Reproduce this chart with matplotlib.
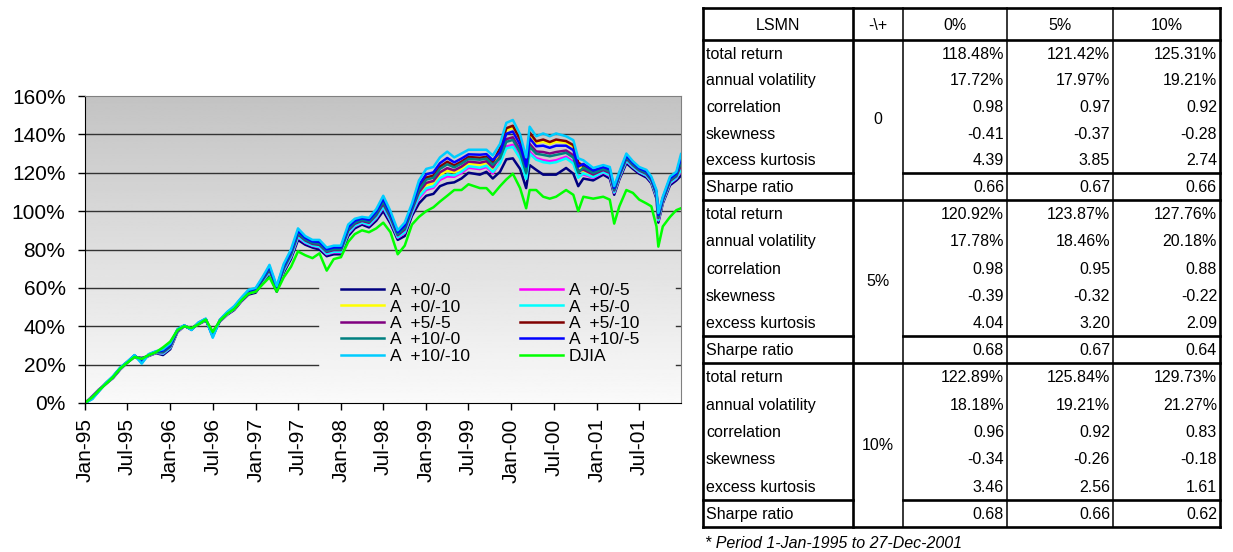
import numpy as np
import pandas as pd
import matplotlib
matplotlib.use("Agg")
import matplotlib.pyplot as plt
import matplotlib.dates as mdates
from matplotlib.ticker import FuncFormatter, MultipleLocator

plt.rcParams['font.family'] = ['Liberation Sans', 'DejaVu Sans']

# cumulative returns (%), monthly to Jul-99 then irregular sampling
dates = list(pd.date_range("1995-01-01", "1999-07-01", freq="MS")) + list(pd.to_datetime([
    "1999-08-19", "1999-09-16", "1999-10-13", "1999-11-13", "1999-12-10", "2000-01-07",
    "2000-02-07", "2000-03-04", "2000-03-19", "2000-04-16", "2000-05-16", "2000-06-13",
    "2000-07-10", "2000-08-22", "2000-09-22", "2000-10-13", "2000-11-04", "2000-12-16",
    "2001-01-28", "2001-02-25", "2001-03-16", "2001-04-07", "2001-05-07", "2001-06-04",
    "2001-07-01", "2001-08-01", "2001-08-22", "2001-09-13", "2001-09-21", "2001-10-10",
    "2001-11-10", "2001-12-07", "2001-12-27"]))

djia = [0, 3, 6.5, 10, 13.5, 18, 21, 24, 23, 25,
        26.5, 29, 32, 38, 40, 39, 41, 43.5, 37, 43,
        46.5, 49, 53.5, 57, 58, 62, 65.5, 58, 65.5, 71,
        79, 77, 75.5, 78, 69, 75, 76, 84, 88, 90,
        89, 91, 94, 89, 77.5, 82, 93, 97, 100, 102,
        105, 108, 111, 111, 114, 112, 112, 108.5, 113, 116.5,
        119.5, 112, 101.5, 111, 111, 107.5, 106.5, 107.5, 111, 108.5,
        100, 107.5, 106.5, 107.5, 106, 93.5, 102.5, 111, 109.5, 106,
        104, 102.5, 92, 81.5, 92, 97, 100.5, 101.5]

a_0_0 = [0, 3.5, 7, 10, 13, 17.5, 21, 24, 23.5, 24.5,
         26, 25, 28, 37, 40, 39, 41, 43, 37, 42.5,
         46, 48.5, 53, 56.5, 57.5, 63, 67, 58, 68, 75,
         85, 82.5, 81, 80, 76.5, 77.5, 77.5, 87, 91, 93,
         91.5, 95, 100, 93.5, 85, 87, 97.5, 104, 108, 109,
         113, 114.5, 115, 117, 120, 119, 120.5, 117, 120.5, 127,
         127.5, 122, 112, 124, 121.5, 119, 119, 119, 122.5, 119.5,
         113, 117, 116, 119, 117, 108.5, 116.5, 125, 122, 119.5,
         117.5, 114.5, 106.5, 94, 104, 113.5, 116, 118.48]

a_0_5 = [0, 3.2, 6.8, 10.1, 13.2, 17.7, 21.1, 24.2, 22.8, 24.7,
         26.2, 25.7, 28.7, 37.3, 40.1, 38.8, 41.2, 43.2, 36.3, 42.7,
         46.3, 48.9, 53.4, 57.1, 58.1, 63.7, 68.1, 58.7, 69.0, 76.1,
         86.3, 83.5, 81.9, 81.1, 77.5, 78.5, 78.5, 88.3, 92.1, 93.9,
         92.6, 96.3, 101.8, 94.9, 86.1, 88.5, 98.9, 106.6, 111.1, 112.1,
         116.3, 118.1, 117.9, 119.9, 122.6, 121.9, 123.0, 119.6, 125.6, 133.7,
         134.5, 128.3, 117.6, 131.0, 127.6, 126.5, 126.0, 126.5, 128.3, 125.6,
         118.1, 119.1, 117.4, 120.1, 118.3, 109.5, 117.4, 126.1, 122.9, 120.3,
         118.4, 115.3, 107.5, 95.1, 104.8, 114.5, 117.0, 120.92]

a_0_10 = [0, 2.9, 6.6, 10.2, 13.4, 17.9, 21.2, 24.4, 22.3, 24.9,
          26.4, 26.2, 29.2, 37.6, 40.2, 38.6, 41.4, 43.4, 35.8, 42.9,
          46.6, 49.3, 53.8, 57.5, 58.5, 64.2, 69.0, 59.2, 69.8, 77.0,
          87.4, 84.3, 82.6, 82.0, 78.3, 79.3, 79.3, 89.4, 93.0, 94.6,
          93.5, 97.4, 103.2, 96.1, 87.0, 89.8, 100.1, 108.8, 113.6, 114.6,
          119.0, 121.1, 120.2, 122.2, 124.8, 124.2, 125.1, 121.8, 132.1, 142.2,
          143.5, 136.4, 124.8, 140.0, 135.5, 136.2, 135.0, 136.2, 135.7, 133.5,
          124.6, 120.8, 118.6, 121.0, 119.4, 110.3, 118.1, 127.0, 123.6, 120.9,
          119.1, 115.9, 108.3, 96.0, 105.4, 115.3, 117.8, 122.89]

a_5_0 = [0, 3.1, 6.7, 10.1, 13.3, 17.8, 21.1, 24.3, 22.7, 24.8,
         26.3, 25.8, 28.8, 37.4, 40.1, 38.7, 41.3, 43.3, 36.2, 42.8,
         46.4, 49.1, 53.6, 57.2, 58.2, 63.8, 68.4, 58.8, 69.3, 76.4,
         86.7, 83.8, 82.1, 81.4, 77.8, 78.8, 78.8, 88.7, 92.4, 94.1,
         92.9, 96.7, 102.2, 95.3, 86.4, 89.0, 99.3, 107.4, 111.9, 112.9,
         117.2, 119.1, 118.6, 120.6, 123.4, 122.6, 123.7, 120.4, 124.9, 132.7,
         133.5, 127.4, 116.8, 130.0, 126.8, 125.5, 125.0, 125.5, 127.5, 124.8,
         117.4, 119.7, 117.8, 120.4, 118.7, 109.8, 117.6, 126.4, 123.1, 120.5,
         118.6, 115.5, 107.8, 95.4, 105.0, 114.8, 117.3, 121.42]

a_5_5 = [0, 2.8, 6.5, 10.2, 13.5, 18.0, 21.2, 24.5, 22.1, 25.0,
         26.5, 26.4, 29.4, 37.7, 40.2, 38.5, 41.5, 43.5, 35.6, 43.0,
         46.7, 49.5, 54.0, 57.7, 58.7, 64.4, 69.4, 59.4, 70.2, 77.4,
         87.9, 84.7, 82.9, 82.4, 78.7, 79.7, 79.7, 89.9, 93.4, 94.9,
         93.9, 97.9, 103.8, 96.6, 87.4, 90.4, 100.6, 109.8, 114.7, 115.7,
         120.2, 122.4, 121.2, 123.2, 125.8, 125.2, 126.0, 122.8, 128.5, 137.5,
         138.5, 131.9, 120.8, 135.0, 131.1, 130.8, 130.0, 130.8, 131.6, 129.1,
         121.0, 121.6, 119.1, 121.4, 119.9, 110.7, 118.4, 127.4, 123.9, 121.2,
         119.4, 116.2, 108.7, 96.4, 105.7, 115.7, 118.2, 123.87]

a_5_10 = [0, 2.5, 6.3, 10.3, 13.7, 18.2, 21.3, 24.7, 21.5, 25.2,
          26.7, 27.0, 30.0, 38.0, 40.3, 38.3, 41.7, 43.7, 35.0, 43.2,
          47.0, 49.9, 54.4, 58.2, 59.2, 65.0, 70.4, 60.0, 71.1, 78.4,
          89.1, 85.6, 83.7, 83.4, 79.6, 80.6, 80.6, 91.1, 94.4, 95.7,
          94.9, 99.1, 105.4, 97.9, 88.4, 91.8, 101.9, 112.2, 117.5, 118.5,
          123.2, 125.7, 123.8, 125.8, 128.2, 127.8, 128.3, 125.2, 132.8, 143.2,
          144.5, 137.3, 125.6, 141.0, 136.4, 137.3, 136.0, 137.3, 136.5, 134.4,
          125.3, 123.5, 120.4, 122.4, 121.1, 111.6, 119.2, 128.4, 124.7, 121.9,
          120.2, 116.9, 109.6, 97.4, 106.4, 116.6, 119.1, 125.84]

a_10_0 = [0, 2.6, 6.4, 10.3, 13.6, 18.1, 21.3, 24.6, 21.7, 25.1,
          26.6, 26.8, 29.8, 37.9, 40.3, 38.4, 41.6, 43.6, 35.2, 43.1,
          46.9, 49.7, 54.2, 58.0, 59.0, 64.8, 70.0, 59.8, 70.7, 78.0,
          88.6, 85.2, 83.4, 83.0, 79.2, 80.2, 80.2, 90.6, 94.0, 95.4,
          94.5, 98.6, 104.8, 97.4, 88.0, 91.2, 101.4, 111.2, 116.4, 117.4,
          122.0, 124.4, 122.8, 124.8, 127.2, 126.8, 127.4, 124.2, 127.5, 136.1,
          137.1, 130.6, 119.7, 133.6, 129.9, 129.3, 128.6, 129.3, 130.4, 127.9,
          120.0, 122.7, 119.9, 122.0, 120.6, 111.2, 118.9, 128.0, 124.4, 121.6,
          119.9, 116.6, 109.2, 97.0, 106.1, 116.2, 118.7, 125.31]

a_10_5 = [0, 2.3, 6.2, 10.4, 13.8, 18.3, 21.4, 24.8, 21.1, 25.3,
          26.8, 27.4, 30.4, 38.2, 40.4, 38.2, 41.8, 43.8, 34.6, 43.3,
          47.2, 50.1, 54.6, 58.5, 59.5, 65.4, 71.0, 60.4, 71.6, 79.0,
          89.8, 86.1, 84.2, 84.0, 80.1, 81.1, 81.1, 91.8, 95.0, 96.2,
          95.5, 99.8, 106.4, 98.7, 89.0, 92.6, 102.7, 113.6, 119.2, 120.2,
          125.0, 127.7, 125.4, 127.4, 129.6, 129.4, 129.7, 126.6, 130.7, 140.3,
          141.5, 134.6, 123.2, 138.0, 133.8, 134.1, 133.0, 134.1, 134.1, 131.8,
          123.2, 124.6, 121.2, 123.0, 121.8, 112.1, 119.7, 129.0, 125.2, 122.3,
          120.7, 117.3, 110.1, 98.0, 106.8, 117.1, 119.6, 127.76]

a_10_10 = [0, 2, 6, 10.5, 14, 18.5, 21.5, 25, 20.5, 25.5,
           27, 28, 31, 38.5, 40.5, 38, 42, 44, 34, 43.5,
           47.5, 50.5, 55, 59, 60, 66, 72, 61, 72.5, 80,
           91, 87, 85, 85, 81, 82, 82, 93, 96, 97,
           96.5, 101, 108, 100, 90, 94, 104, 116, 122, 123,
           128, 131, 128, 130, 132, 132, 132, 129, 135, 146,
           147.5, 140, 128, 144, 139, 140.5, 139, 140.5, 139, 137,
           127.5, 126.5, 122.5, 124, 123, 113, 120.5, 130, 126, 123,
           121.5, 118, 111, 99, 107.5, 118, 120.5, 129.73]

# statistics table
col_labels = ["0%", "5%", "10%"]
group_labels = ["0", "5%", "10%"]
row_labels = ["total return", "annual volatility", "correlation", "skewness",
              "excess kurtosis", "Sharpe ratio"]
total_return = [[118.48, 121.42, 125.31], [120.92, 123.87, 127.76], [122.89, 125.84, 129.73]]
volatility = [[17.72, 17.97, 19.21], [17.78, 18.46, 20.18], [18.18, 19.21, 21.27]]
correlation = [[0.98, 0.97, 0.92], [0.98, 0.95, 0.88], [0.96, 0.92, 0.83]]
skewness = [[-0.41, -0.37, -0.28], [-0.39, -0.32, -0.22], [-0.34, -0.26, -0.18]]
kurtosis = [[4.39, 3.85, 2.74], [4.04, 3.20, 2.09], [3.46, 2.56, 1.61]]
sharpe = [[0.66, 0.67, 0.66], [0.68, 0.67, 0.64], [0.68, 0.66, 0.62]]

series = [
    ("A  +0/-0", a_0_0, "#000080"),
    ("A  +0/-5", a_0_5, "#FF00FF"),
    ("A  +0/-10", a_0_10, "#FFFF00"),
    ("A  +5/-0", a_5_0, "#00FFFF"),
    ("A  +5/-5", a_5_5, "#800080"),
    ("A  +5/-10", a_5_10, "#800000"),
    ("A  +10/-0", a_10_0, "#008080"),
    ("A  +10/-5", a_10_5, "#0000FF"),
    ("A  +10/-10", a_10_10, "#00CCFF"),
    ("DJIA", djia, "#00FF00"),
]

W, H = 1233, 552
fig = plt.figure(figsize=(W / 100, H / 100), dpi=100)
pos = [85 / W, 1 - 403 / H, 596 / W, 307 / H]

# grey-to-white plot area
ax_bg = fig.add_axes(pos, zorder=0)
grad = np.linspace(0.765, 0.98, 256).reshape(-1, 1)
ax_bg.imshow(grad, aspect="auto", cmap="gray", vmin=0, vmax=1, extent=[0, 1, 0, 1], origin="upper")
ax_bg.axis("off")

ax = fig.add_axes(pos, zorder=1)
ax.patch.set_alpha(0)

handles = []
for label, vals, color in series:
    ln, = ax.plot(dates, vals, color=color, lw=1.8, label=label)
    handles.append(ln)

xmin, xmax = pd.Timestamp("1995-01-01"), pd.Timestamp("2001-12-27")
ax.set_xlim(xmin, xmax)
ax.set_ylim(0, 160)

# gridlines; the lower ones stop where the legend sits
for yv in [80, 100, 120, 140]:
    ax.axhline(yv, color="#333333", lw=1, zorder=0.5)
for yv in [20, 40, 60]:
    ax.axhline(yv, xmin=0, xmax=0.391, color="#333333", lw=1, zorder=0.5)
    ax.axhline(yv, xmin=0.992, xmax=1, color="#333333", lw=1, zorder=0.5)

ax.yaxis.set_major_locator(MultipleLocator(20))
ax.yaxis.set_major_formatter(FuncFormatter(lambda v, p: "{:.0f}%".format(v)))
ax.xaxis.set_major_locator(mdates.MonthLocator(bymonth=[1, 7]))
ax.xaxis.set_major_formatter(mdates.DateFormatter("%b-%y"))
ax.tick_params(axis="both", direction="out", length=5, width=1, labelsize=15, colors="black")
ax.tick_params(axis="x", labelrotation=90, pad=6)
ax.tick_params(axis="y", pad=9)
for s in ["left", "bottom"]:
    ax.spines[s].set_color("black")
for s in ["top", "right"]:
    ax.spines[s].set_color("#808080")

order = [0, 2, 4, 6, 8, 1, 3, 5, 7, 9]
ax.legend([handles[i] for i in order], [series[i][0] for i in order], ncol=2,
          loc="upper left", bbox_to_anchor=(341 / W, 1 - 283 / H), bbox_transform=fig.transFigure,
          frameon=False, fontsize=12.5, borderpad=0, borderaxespad=0, labelspacing=0.07,
          handlelength=2.5, handletextpad=0.3, columnspacing=2.9)

# table drawn in pixel coordinates
ax_t = fig.add_axes([0, 0, 1, 1], zorder=2)
ax_t.set_xlim(0, W)
ax_t.set_ylim(H, 0)
ax_t.axis("off")

xe = [703, 853, 903, 1007, 1113, 1220]
top, head = 8, 40
gb = [40, 200, 363, 527]
thin, thick = 1.1, 1.9

for x in xe:
    lw = thick if x in (703, 853, 1220) else thin
    ax_t.plot([x, x], [top, gb[-1]], color="black", lw=lw, solid_capstyle="projecting")
for y in [top, head] + gb[1:]:
    ax_t.plot([xe[0], xe[-1]], [y, y], color="black", lw=thick, solid_capstyle="projecting")

headers = ["LSMN", "-\\+"] + col_labels
for i, h in enumerate(headers):
    ax_t.text((xe[i] + xe[i + 1]) / 2, (top + head) / 2 + 1, h, ha="center", va="center", fontsize=11.5)

stats = [total_return, volatility, correlation, skewness, kurtosis, sharpe]
for g in range(3):
    t, b = gb[g], gb[g + 1]
    sy = b - 27
    ax_t.plot([xe[0], xe[1]], [sy, sy], color="black", lw=thick)
    ax_t.plot([xe[2], xe[-1]], [sy, sy], color="black", lw=thick)
    ax_t.text((xe[1] + xe[2]) / 2, (t + b) / 2, group_labels[g], ha="center", va="center", fontsize=11.5)
    rh = (sy - t) / 5
    for r in range(6):
        yc = t + (r + 0.5) * rh if r < 5 else (sy + b) / 2
        ax_t.text(xe[0] + 3, yc + 1, row_labels[r], ha="left", va="center", fontsize=11.5)
        for c in range(3):
            v = stats[r][g][c]
            s = "{:.2f}%".format(v) if r < 2 else "{:.2f}".format(v)
            ax_t.text(xe[c + 3] - 3, yc + 1, s, ha="right", va="center", fontsize=11.5)

ax_t.text(705, 543, "* Period 1-Jan-1995 to 27-Dec-2001", ha="left", va="center",
          fontsize=11.5, style="italic")

fig.savefig("out.png", dpi=100)
